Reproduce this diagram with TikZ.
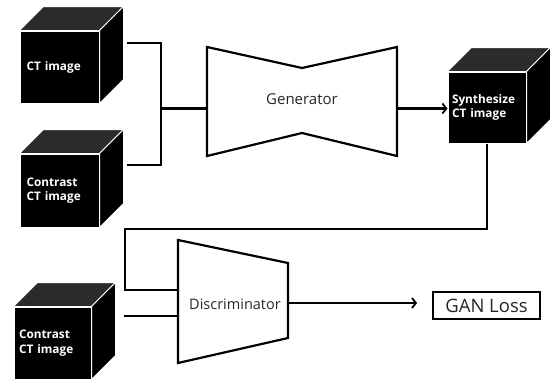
\documentclass[tikz,border=0pt]{standalone}
\usepackage{fontspec}
\setmainfont{Open Sans}
\usetikzlibrary{arrows.meta,calc}
\definecolor{topgray}{HTML}{2B2B2B}
\newcommand\cubesides[1]{%
  \draw[white, line width=1pt, fill=topgray, line join=miter]
    (#1.north west) -- ++(24,-24) -- ($(#1.north east)+(24,-24)$) -- (#1.north east) -- cycle;
  \draw[white, line width=1pt, fill=black, line join=miter]
    (#1.north east) -- ++(24,-24) -- ($(#1.south east)+(24,-24)$) -- (#1.south east) -- cycle;
}
\begin{document}
\begin{tikzpicture}[x=1pt,y=-1pt,
  face/.style={draw=white, line width=1pt, fill=black, inner sep=0pt,
    minimum width=79pt, minimum height=72pt, text width=66pt, align=left,
    text=white, font=\bfseries\fontsize{11.8}{14.5}\selectfont},
  conn/.style={line width=2.2pt},
  block/.style={line width=2.2pt, line join=miter},
  tip/.style={-{Straight Barb[length=4pt,width=10pt,line width=1.8pt]}},
  lbl/.style={font=\fontsize{15}{18}\selectfont, text=black!85}
]
\useasboundingbox (0,0) rectangle (551,380);
% cubes
\node[face] (c1) at (59.5,67) {CT image};
\cubesides{c1}
\node[face, minimum height=73pt] (c2) at (59.5,190.5) {Contrast\\CT image};
\cubesides{c2}
\node[face, minimum width=78pt, minimum height=71pt, text width=70pt] (c3) at (487,107.5) {Synthesize\\CT image};
\cubesides{c3}
\node[face, minimum width=77pt, text width=67pt] (c4) at (52.5,343) {Contrast\\CT image};
\cubesides{c4}
% generator
\draw[block] (207,47) -- (302,68) -- (397,47) -- (397,156) -- (302,133) -- (207,156) -- cycle;
\node[lbl] (gen) at (302,99) {Generator};
\coordinate (genL) at (207,108.5);
\coordinate (genR) at (397,108.5);
% discriminator
\draw[block] (178,240) -- (288,263) -- (288,338) -- (178,363) -- cycle;
\node[lbl, font=\fontsize{14.5}{17}\selectfont] (dis) at (235,304) {Discriminator};
\coordinate (disL1) at (178,290);
\coordinate (disL2) at (178,316);
\coordinate (disR) at (288,303);
% loss
\node[draw, line width=1.8pt, minimum width=107pt, minimum height=27pt, inner sep=0pt,
  font=\fontsize{18.5}{20}\selectfont, text=black!85] (loss) at (486.5,305.5) {GAN Loss};
% connectors
\coordinate (s1) at (127,43);
\coordinate (s2) at (127,165);
\coordinate (j1) at (161,108.5);
\draw[conn, line join=miter] (s1) -| (j1) |- (s2);
\draw[conn] (j1) -- (genL);
\draw[conn, tip] (genR) -- (genR -| c3.west);
\coordinate (k1) at (125,229);
\draw[conn, line join=miter] (c3.south) |- (k1) |- (disL1);
\coordinate (s4) at (124,316);
\draw[conn] (s4) -- (disL2);
\draw[conn, tip] (disR) -- ($(loss.west)+(-15,-2.5)$);
\end{tikzpicture}
\end{document}
